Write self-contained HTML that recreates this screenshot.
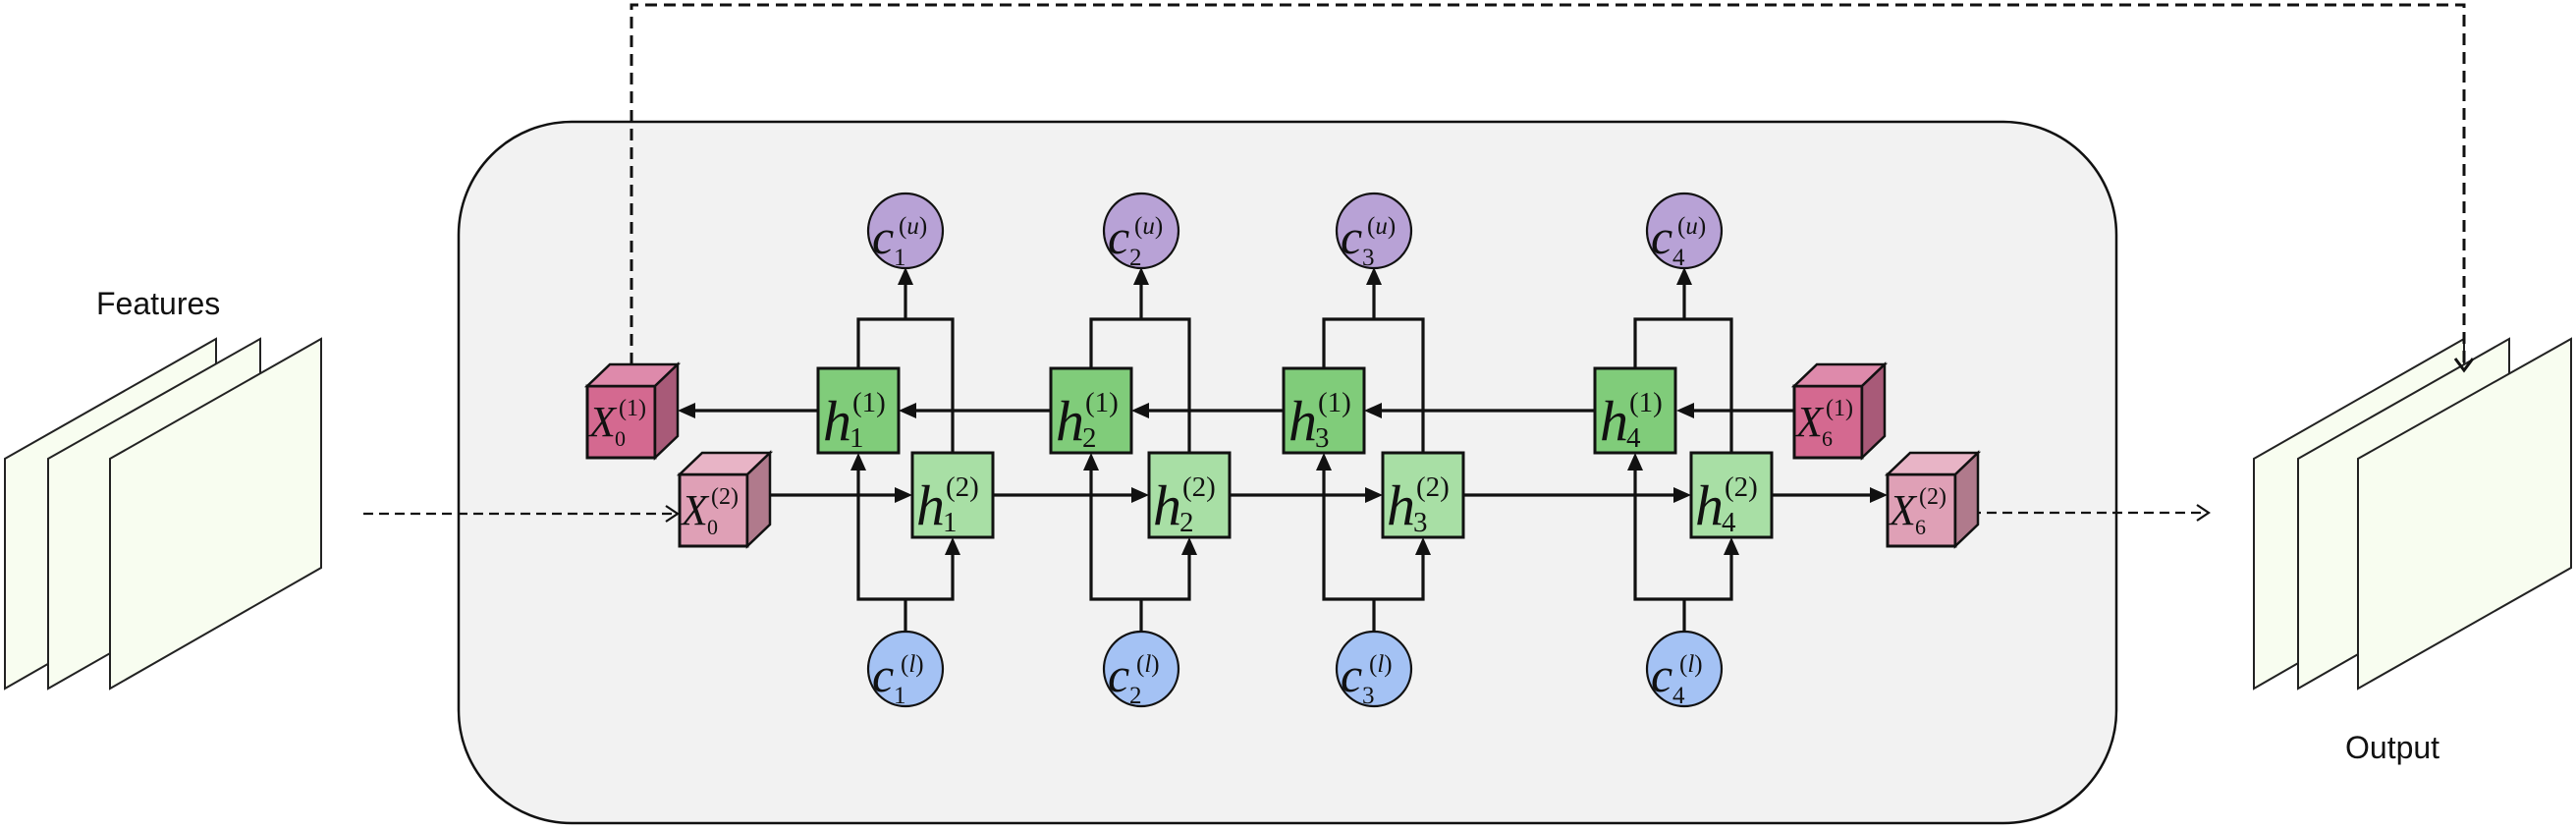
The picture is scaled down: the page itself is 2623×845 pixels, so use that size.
<!DOCTYPE html>
<html><head><meta charset="utf-8"><style>
html,body{margin:0;padding:0;background:#fff;}
svg{display:block;}
.ser{font-family:'Liberation Serif','DejaVu Serif','Times New Roman',serif;}
</style></head><body>
<svg width="2623" height="845" viewBox="0 0 2623 845" xmlns="http://www.w3.org/2000/svg">
<g stroke="#222" stroke-width="2" fill="#f8fdf0">
<polygon points="5,467 220,345 220,578 5,701"/>
<polygon points="49,467 265,345 265,578 49,701"/>
<polygon points="112,467 327,345 327,578 112,701"/>
<polygon points="2295,467 2509,345 2509,578 2295,701"/>
<polygon points="2340,467 2555,345 2555,578 2340,701"/>
<polygon points="2401,467 2618,345 2618,578 2401,701"/>
</g>
<text x="98" y="320" style="font-family:'Liberation Sans',sans-serif" font-size="32" fill="#111">Features</text>
<text x="2388" y="772" style="font-family:'Liberation Sans',sans-serif" font-size="32" fill="#111">Output</text>
<rect x="467" y="124" width="1688" height="714" rx="115" ry="115" fill="#f2f2f2" stroke="#111" stroke-width="2.5"/>
<g fill="none" stroke="#111">
<path d="M643 371 V5 H2509 V375" stroke-width="3" stroke-dasharray="12 7"/>
<path d="M2500 365 L2509 377 L2518 365" stroke-width="3"/>
<path d="M370 523 H688" stroke-width="2.2" stroke-dasharray="10 6"/>
<path d="M678 515 L690 523 L678 531" stroke-width="2.2"/>
<path d="M1991 522 H2247" stroke-width="2.2" stroke-dasharray="10 6"/>
<path d="M2237 514 L2249 522 L2237 530" stroke-width="2.2"/>
</g>
<g fill="none" stroke="#111" stroke-width="3.2">
<path d="M874 375 V325 H970 V461 M922 325 V290 M874 479 V610 H970 V565 M922 610 V644"/>
<path d="M1111 375 V325 H1211 V461 M1162 325 V290 M1111 479 V610 H1211 V565 M1162 610 V644"/>
<path d="M1348 375 V325 H1449 V461 M1399 325 V290 M1348 479 V610 H1449 V565 M1399 610 V644"/>
<path d="M1665 375 V325 H1763 V461 M1715 325 V290 M1665 479 V610 H1763 V565 M1715 610 V644"/>
<path d="M1725 418 H1827 M1407 418 H1624 M1170 418 H1307 M933 418 H1070 M708 418 H833"/>
<path d="M785 504 H911 M1011 504 H1152 M1253 504 H1390 M1490 504 H1704 M1805 504 H1904"/>
</g>
<g fill="#111">
<polygon points="922,272 914,290 930,290"/><polygon points="1162,272 1154,290 1170,290"/><polygon points="1399,272 1391,290 1407,290"/><polygon points="1715,272 1707,290 1723,290"/>
<polygon points="874,461 866,479 882,479"/><polygon points="970,547 962,565 978,565"/>
<polygon points="1111,461 1103,479 1119,479"/><polygon points="1211,547 1203,565 1219,565"/>
<polygon points="1348,461 1340,479 1356,479"/><polygon points="1449,547 1441,565 1457,565"/>
<polygon points="1665,461 1657,479 1673,479"/><polygon points="1763,547 1755,565 1771,565"/>
<polygon points="1707,418 1725,410 1725,426"/><polygon points="1389,418 1407,410 1407,426"/><polygon points="1152,418 1170,410 1170,426"/><polygon points="915,418 933,410 933,426"/><polygon points="690,418 708,410 708,426"/>
<polygon points="929,504 911,496 911,512"/><polygon points="1170,504 1152,496 1152,512"/><polygon points="1408,504 1390,496 1390,512"/><polygon points="1722,504 1704,496 1704,512"/><polygon points="1922,504 1904,496 1904,512"/>
</g>
<g stroke="#111" stroke-width="2.2">
<ellipse cx="922" cy="235" rx="38" ry="38" fill="#b8a2d6"/><ellipse cx="1162" cy="235" rx="38" ry="38" fill="#b8a2d6"/><ellipse cx="1399" cy="235" rx="38" ry="38" fill="#b8a2d6"/><ellipse cx="1715" cy="235" rx="38" ry="38" fill="#b8a2d6"/>
<ellipse cx="922" cy="681" rx="38" ry="38" fill="#a4c2f4"/><ellipse cx="1162" cy="681" rx="38" ry="38" fill="#a4c2f4"/><ellipse cx="1399" cy="681" rx="38" ry="38" fill="#a4c2f4"/><ellipse cx="1715" cy="681" rx="38" ry="38" fill="#a4c2f4"/>
</g>
<g stroke="#111" stroke-width="3">
<rect x="833" y="375" width="82" height="86" fill="#80cc7a"/><rect x="929" y="461" width="82" height="86" fill="#a8dfa5"/>
<rect x="1070" y="375" width="82" height="86" fill="#80cc7a"/><rect x="1170" y="461" width="82" height="86" fill="#a8dfa5"/>
<rect x="1307" y="375" width="82" height="86" fill="#80cc7a"/><rect x="1408" y="461" width="82" height="86" fill="#a8dfa5"/>
<rect x="1624" y="375" width="82" height="86" fill="#80cc7a"/><rect x="1722" y="461" width="82" height="86" fill="#a8dfa5"/>
<rect x="598" y="393" width="69" height="73" fill="#d46990"/>
<rect x="692" y="483" width="69" height="73" fill="#dfa0b6"/>
<rect x="1827" y="393" width="69" height="73" fill="#d46990"/>
<rect x="1922" y="483" width="69" height="73" fill="#dfa0b6"/>
</g>
<g stroke="#111" stroke-width="2.5">
<polygon points="598,393 621,371 690,371 667,393" fill="#de8aab"/><polygon points="667,393 690,371 690,444 667,466" fill="#a85a78"/>
<polygon points="692,483 715,461 784,461 761,483" fill="#e8b4c6"/><polygon points="761,483 784,461 784,534 761,556" fill="#b07a8c"/>
<polygon points="1827,393 1850,371 1919,371 1896,393" fill="#de8aab"/><polygon points="1896,393 1919,371 1919,444 1896,466" fill="#a85a78"/>
<polygon points="1922,483 1945,461 2014,461 1991,483" fill="#e8b4c6"/><polygon points="1991,483 2014,461 2014,534 1991,556" fill="#b07a8c"/>
</g>
<g class="ser" fill="#111">
<g font-style="italic" font-size="58">
<text x="838" y="448">h</text><text x="933" y="534">h</text>
<text x="1075" y="448">h</text><text x="1174" y="534">h</text>
<text x="1312" y="448">h</text><text x="1412" y="534">h</text>
<text x="1629" y="448">h</text><text x="1726" y="534">h</text>
</g>
<g font-size="29">
<text x="865" y="455">1</text><text x="868" y="419">(1)</text>
<text x="960" y="541">1</text><text x="963" y="505">(2)</text>
<text x="1102" y="455">2</text><text x="1105" y="419">(1)</text>
<text x="1201" y="541">2</text><text x="1204" y="505">(2)</text>
<text x="1339" y="455">3</text><text x="1342" y="419">(1)</text>
<text x="1439" y="541">3</text><text x="1442" y="505">(2)</text>
<text x="1656" y="455">4</text><text x="1659" y="419">(1)</text>
<text x="1753" y="541">4</text><text x="1756" y="505">(2)</text>
</g>
<g font-style="italic" font-size="50">
<text x="888" y="258">c</text><text x="1128" y="258">c</text><text x="1365" y="258">c</text><text x="1681" y="258">c</text>
<text x="888" y="704">c</text><text x="1128" y="704">c</text><text x="1365" y="704">c</text><text x="1681" y="704">c</text>
</g>
<g font-size="25">
<text x="910" y="270">1</text><text x="1150" y="270">2</text><text x="1387" y="270">3</text><text x="1703" y="270">4</text>
<text x="910" y="716">1</text><text x="1150" y="716">2</text><text x="1387" y="716">3</text><text x="1703" y="716">4</text>
<text x="915" y="238">(<tspan font-style="italic">u</tspan>)</text><text x="1155" y="238">(<tspan font-style="italic">u</tspan>)</text><text x="1392" y="238">(<tspan font-style="italic">u</tspan>)</text><text x="1708" y="238">(<tspan font-style="italic">u</tspan>)</text>
<text x="917" y="684">(<tspan font-style="italic">l</tspan>)</text><text x="1157" y="684">(<tspan font-style="italic">l</tspan>)</text><text x="1394" y="684">(<tspan font-style="italic">l</tspan>)</text><text x="1710" y="684">(<tspan font-style="italic">l</tspan>)</text>
</g>
<g font-style="italic" font-size="44">
<text x="600" y="444">X</text><text x="694" y="534">X</text><text x="1829" y="444">X</text><text x="1924" y="534">X</text>
</g>
<g font-size="22">
<text x="626" y="454">0</text><text x="720" y="544">0</text><text x="1855" y="454">6</text><text x="1950" y="544">6</text>
</g>
<g font-size="24">
<text x="630" y="423">(1)</text><text x="724" y="513">(2)</text><text x="1859" y="423">(1)</text><text x="1954" y="513">(2)</text>
</g>
</g>
</svg>
</body></html>
